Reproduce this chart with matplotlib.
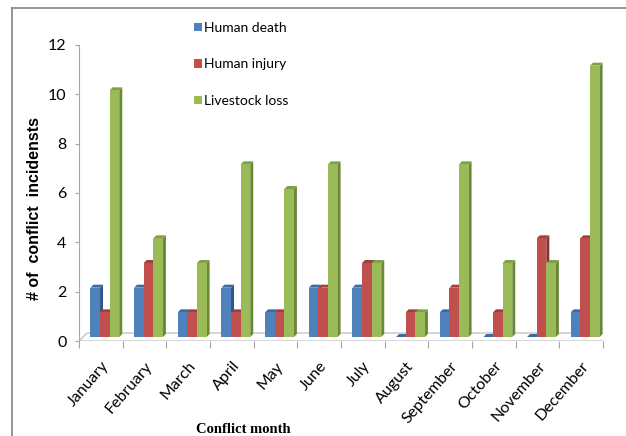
import matplotlib
matplotlib.use("Agg")
import matplotlib.pyplot as plt
from matplotlib.patches import Polygon, Patch
from matplotlib.lines import Line2D

months = ["January", "February", "March", "April", "May", "June", "July",
          "August", "September", "October", "November", "December"]
human_death = [2, 2, 1, 2, 1, 2, 2, 0, 1, 0, 0, 1]
human_injury = [1, 3, 1, 1, 1, 2, 3, 1, 2, 1, 4, 4]
livestock_loss = [10, 4, 3, 7, 6, 7, 3, 1, 7, 3, 3, 11]
y_ticks = [0, 2, 4, 6, 8, 10, 12]

series = [
    ("Human death", human_death, ("#4F81BD", "#3C6AA3", "#2E5686")),
    ("Human injury", human_injury, ("#C0504D", "#A23F3C", "#873230")),
    ("Livestock loss", livestock_loss, ("#9BBB59", "#7FA044", "#6A8838")),
]

W, H = 626, 436
plt.rcParams["font.family"] = ["Lato", "DejaVu Sans"]
fig = plt.figure(figsize=(W / 100, H / 100), dpi=100)
ax = fig.add_axes([79 / W, (H - 341) / H, 524 / W, 296 / H])
ax.set_xlim(0, len(months))
ax.set_ylim(0, 12)

# data units per pixel, used for the pseudo-3D offsets
bb = ax.get_window_extent()
ux = len(months) / bb.width
uy = 12 / bb.height

floor_dx, floor_dy = 8 * ux, 8 * uy      # depth of the floor
base_dx, base_dy = 4 * ux, 4 * uy        # bars sit mid-depth on the floor
bar_dx, bar_dy = 3 * ux, 3 * uy          # depth of each bar
bar_w = 0.22

# floor
n = len(months)
floor = Polygon([(0, 0), (n, 0), (n + floor_dx, floor_dy), (floor_dx, floor_dy)],
                closed=True, facecolor="white", edgecolor="#BFBFBF", lw=0.9, zorder=1)
ax.add_patch(floor)

for i in range(n):
    for k, (name, vals, (c_front, c_top, c_side)) in enumerate(series):
        v = vals[i]
        x0 = i + 0.5 + (k - 1.5) * bar_w + base_dx
        y0 = base_dy
        x1 = x0 + bar_w
        y1 = y0 + v
        z = 3 + i * 0.01 + k * 0.001
        # side face
        ax.add_patch(Polygon([(x1, y0), (x1 + bar_dx, y0 + bar_dy),
                              (x1 + bar_dx, y1 + bar_dy), (x1, y1)],
                             closed=True, facecolor=c_side, edgecolor="none", zorder=z))
        # top face
        ax.add_patch(Polygon([(x0, y1), (x1, y1), (x1 + bar_dx, y1 + bar_dy),
                              (x0 + bar_dx, y1 + bar_dy)],
                             closed=True, facecolor=c_top, edgecolor="none", zorder=z))
        # front face
        if v > 0:
            ax.add_patch(Polygon([(x0, y0), (x1, y0), (x1, y1), (x0, y1)],
                                 closed=True, facecolor=c_front, edgecolor="none", zorder=z))

# axes styling
for s in ["top", "right", "bottom"]:
    ax.spines[s].set_visible(False)
ax.spines["left"].set_color("#A6A6A6")
ax.spines["left"].set_linewidth(0.8)

ax.set_yticks(y_ticks)
ax.set_yticklabels([str(t) for t in y_ticks], fontsize=11.5)
ax.tick_params(axis="y", length=3, width=0.8, color="#A6A6A6", pad=6)

ax.set_xticks([i + 0.5 for i in range(n)])
ax.set_xticklabels(months, rotation=49, ha="right", va="top",
                   rotation_mode="anchor", fontsize=11.5)
ax.tick_params(axis="x", which="major", length=0, pad=13)
ax.set_xticks(range(n + 1), minor=True)
ax.tick_params(axis="x", which="minor", length=5, width=0.8, color="#A6A6A6",
               direction="out")

ax.set_ylabel("# of  conflict  incidensts", fontsize=11.5, fontweight="bold",
              family="Liberation Sans")
ax.yaxis.set_label_coords((42 - 79) / 524, (341 - 208) / 296)
fig.text(243 / W, 1 - 429 / H, "Conflict month", ha="center", va="center",
         fontsize=10.5, fontweight="bold", family="Liberation Serif")

handles = [Patch(facecolor=c[0], edgecolor="none", label=name) for name, _, c in series]
fig.legend(handles=handles, loc="upper left", bbox_to_anchor=(194 / W, 1 - 22 / H),
           frameon=False, fontsize=10, handlelength=0.55, handleheight=0.55,
           handletextpad=0.2, labelspacing=1.75, borderpad=0, borderaxespad=0)

# outer frame (top and left edges)
fig.add_artist(Line2D([12 / W, 1], [1 - 8 / H, 1 - 8 / H], transform=fig.transFigure,
                      color="#8C8C8C", lw=1.3))
fig.add_artist(Line2D([12 / W, 12 / W], [0, 1 - 8 / H], transform=fig.transFigure,
                      color="#8C8C8C", lw=1.3))

fig.savefig("out.png", dpi=100)
